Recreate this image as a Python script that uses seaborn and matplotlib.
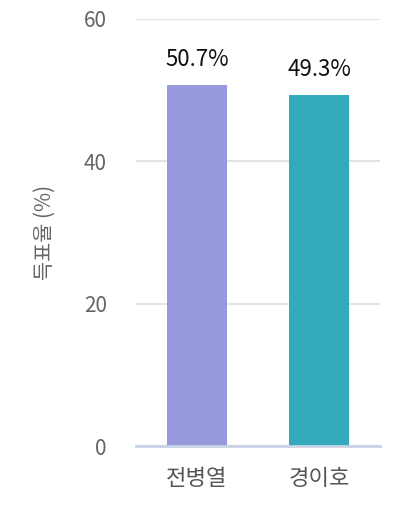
import matplotlib
matplotlib.use("Agg")
import matplotlib.pyplot as plt
import seaborn as sns
import pandas as pd

# 후보별 득표율
candidates = ["전병열", "경이호"]
vote_share = [50.7, 49.3]
bar_colors = ["#9898dd", "#32aabb"]
y_ticks = [0, 20, 40, 60]

sns.set_theme(style="white")
plt.rcParams['font.family'] = ['Noto Sans CJK KR', 'DejaVu Sans']

df = pd.DataFrame({"후보": candidates, "득표율": vote_share})

fig = plt.figure(figsize=(4, 5.2), dpi=100)
ax = fig.add_axes([0.34, 0.1423, 0.61, 0.8212])

sns.barplot(data=df, x="후보", y="득표율", hue="후보", palette=bar_colors,
            width=0.49, legend=False, ax=ax, saturation=1, edgecolor="none")

ax.set_ylim(0, 60)
ax.set_xlim(-0.5, 1.5)
ax.set_yticks(y_ticks)
ax.yaxis.grid(True, color="#e3e3e3", linewidth=1.5)
ax.set_axisbelow(True)
for s in ["top", "right", "left"]:
    ax.spines[s].set_visible(False)
ax.spines["bottom"].set_color("#c9d3e6")
ax.spines["bottom"].set_linewidth(2)

ax.tick_params(axis="both", length=0)
ax.tick_params(axis="y", labelsize=15, labelcolor="#666666", pad=21)
ax.tick_params(axis="x", labelsize=16, labelcolor="#555555", pad=15)
ax.set_xlabel("")
ax.set_ylabel("득표율 (%)", fontsize=15, color="#666666", labelpad=20)

for i, v in enumerate(vote_share):
    ax.text(i, v + 2.0, f"{v}%", ha="center", va="bottom", fontsize=16, color="#111111")

fig.savefig("out.png", dpi=100)
